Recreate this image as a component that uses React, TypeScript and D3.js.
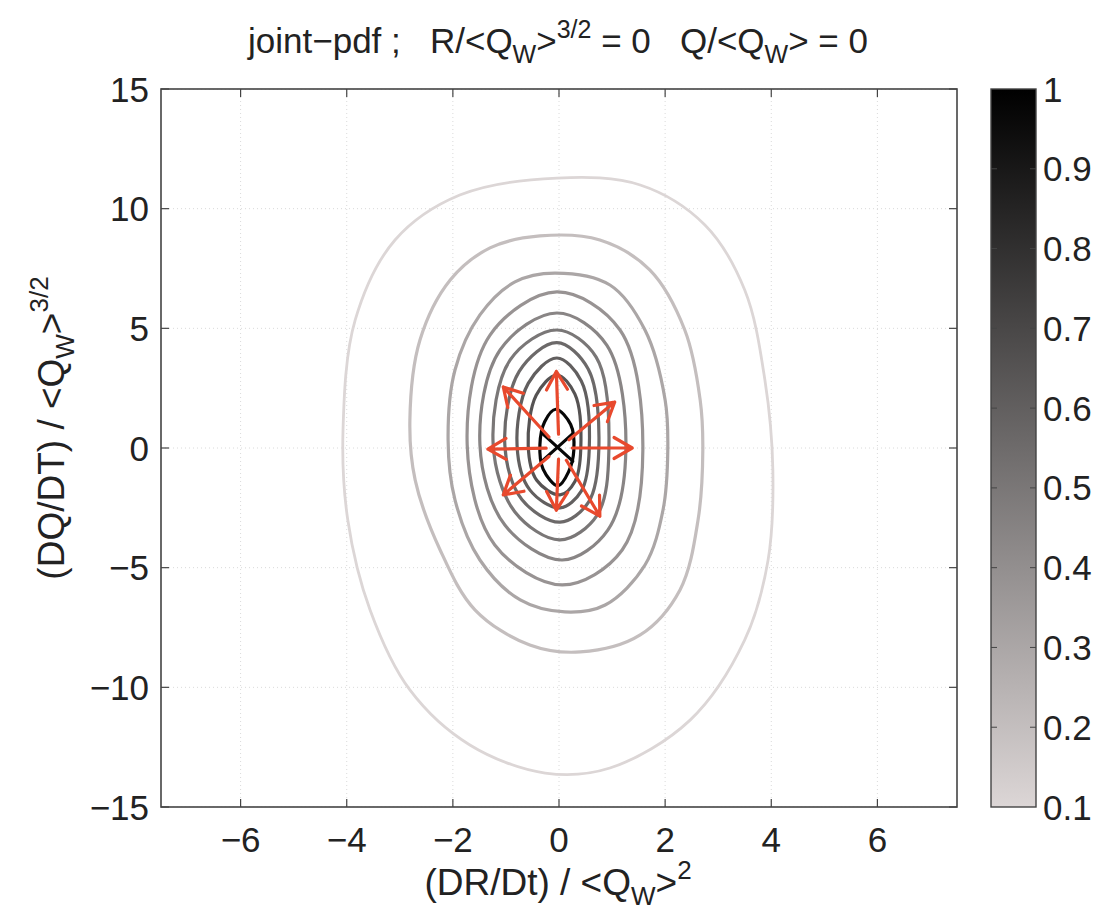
import React from "react";
import * as d3 from "d3";

// ---------- data ----------
const xTicks = [-6, -4, -2, 0, 2, 4, 6];
const yTicks = [-15, -10, -5, 0, 5, 10, 15];
const cbTicks = [0.1, 0.2, 0.3, 0.4, 0.5, 0.6, 0.7, 0.8, 0.9, 1];
const xDomain = [-7.5, 7.5];
const yDomain = [-15, 15];
const cbDomain = [0.1, 1];

// contour levels (outer to inner)
const contourLevels = [0.1, 0.2, 0.3, 0.38, 0.44, 0.5, 0.56, 0.6, 0.65];

// contour rings in data units [DR/Dt, DQ/Dt]
const ring1: [number, number][] = [
  [-0.04, 11.28], [1.53, 10.99], [2.75, 9.32], [3.5, 6.6], [3.88, 2.84], [4.03, -0.92],
  [3.94, -4.68], [3.5, -8.02], [2.47, -11.37], [0.96, -13.37], [-0.26, -13.58],
  [-1.68, -12.41], [-2.81, -10.11], [-3.56, -6.77], [-3.98, -3.01], [-4.07, 0.75],
  [-3.84, 5.35], [-3.09, 8.69], [-1.87, 10.57],
];
const ring2: [number, number][] = [
  [-0.36, 8.86], [0.77, 8.69], [1.71, 7.44], [2.37, 4.93], [2.66, 2.01], [2.71, -0.08],
  [2.62, -3.01], [2.28, -5.93], [1.53, -7.81], [0.4, -8.52], [-0.55, -8.23],
  [-1.58, -6.77], [-2.24, -4.26], [-2.71, -1.34], [-2.81, 1.17], [-2.62, 4.51],
  [-2.05, 7.02], [-1.3, 8.36],
];
const ring3: [number, number][] = [
  [-0.08, 7.31], [0.96, 6.81], [1.62, 4.93], [2.0, 2.01], [2.05, -0.08], [1.96, -2.59],
  [1.62, -4.89], [0.87, -6.56], [0.11, -6.85], [-0.73, -6.35], [-1.49, -4.68],
  [-1.96, -2.17], [-2.09, 0.33], [-1.96, 3.26], [-1.49, 5.56], [-0.83, 6.94],
];
const ring4: [number, number][] = [
  [-0.04, 6.52], [1.15, 4.93], [1.58, -0.08], [1.19, -4.26], [0.06, -5.72],
  [-1.21, -4.05], [-1.73, 0.13], [-1.3, 4.72],
];
const ring5: [number, number][] = [
  [-0.04, 5.64], [0.9, 4.3], [1.26, -0.08], [0.92, -3.43], [0.06, -4.68],
  [-1.02, -3.22], [-1.49, 0.13], [-1.11, 4.1],
];
const ring6: [number, number][] = [
  [-0.04, 4.93], [0.7, 3.8], [0.94, -0.08], [0.72, -2.8], [0.02, -3.84],
  [-0.83, -2.67], [-1.24, 0.13], [-0.92, 3.68],
];
const ring7: [number, number][] = [
  [-0.04, 4.4], [0.55, 3.3], [0.75, -0.08], [0.56, -2.25], [0.02, -3.1],
  [-0.7, -2.15], [-1.02, 0.1], [-0.75, 3.2],
];
const ring8: [number, number][] = [
  [-0.04, 3.76], [0.42, 2.8], [0.57, -0.05], [0.42, -1.8], [0.02, -2.5],
  [-0.55, -1.75], [-0.79, 0.1], [-0.58, 2.7],
];
const ring9: [number, number][] = [
  [-0.04, 3.05], [0.3, 2.25], [0.41, -0.05], [0.3, -1.4], [0.02, -1.96],
  [-0.42, -1.35], [-0.58, 0.1], [-0.43, 2.2],
];
const rings = [ring1, ring2, ring3, ring4, ring5, ring6, ring7, ring8, ring9];

// innermost (highest) level: lens with crossing
const peakLevel = 0.97;
const centerLens: [number, number][] = [
  [-0.06, 1.62], [0.22, 0.98], [0.28, -0.08], [0.18, -1.0], [-0.02, -1.58],
  [-0.3, -0.88], [-0.36, 0.13], [-0.27, 1.1],
];
const centerCross: [number, number][][] = [
  [[-0.32, 0.62], [0.26, -0.55]],
  [[-0.32, -0.55], [0.26, 0.6]],
];

// arrow tips (from origin)
const arrowTips: [number, number][] = [
  [-0.05, 3.2], [1.05, 1.92], [1.38, 0], [0.77, -2.85],
  [-0.05, -2.6], [-1.05, -1.96], [-1.34, -0.05], [-1.05, 2.55],
];

// ---------- component ----------
export default function App() {
  const W = 1098, H = 914;
  const left = 161, right = 957, top = 89, bottom = 807;
  const x = d3.scaleLinear().domain(xDomain).range([left, right]);
  const y = d3.scaleLinear().domain(yDomain).range([bottom, top]);
  const cbX0 = 991, cbX1 = 1036;
  const cb = d3.scaleLinear().domain(cbDomain).range([bottom, top]);
  const grey = d3.scaleLinear<string>().domain(cbDomain).range(["#dcd6d6", "#000000"]);

  const ringLine = d3.line<[number, number]>()
    .x(d => x(d[0])).y(d => y(d[1]))
    .curve(d3.curveCatmullRomClosed.alpha(0.5));
  const segLine = d3.line<[number, number]>().x(d => x(d[0])).y(d => y(d[1]));

  const font = "'Liberation Sans', Arial, Helvetica, sans-serif";
  const fs = 35;
  const subFs = 25;
  const labFs = 37;
  const labSubFs = 26;
  const tickLen = 8;

  const arrowColor = "#e8492d";
  const arrows = arrowTips.map((t, i) => {
    const x0 = x(0), y0 = y(0);
    const tx = x(t[0]), ty = y(t[1]);
    const dx = tx - x0, dy = ty - y0;
    const len = Math.hypot(dx, dy);
    const ux = dx / len, uy = dy / len;
    const sx = x0 + ux * len * 0.18, sy = y0 + uy * len * 0.18;
    const hl = 21, ha = (30 * Math.PI) / 180;
    const ang = Math.atan2(uy, ux);
    const h1x = tx - hl * Math.cos(ang - ha), h1y = ty - hl * Math.sin(ang - ha);
    const h2x = tx - hl * Math.cos(ang + ha), h2y = ty - hl * Math.sin(ang + ha);
    return (
      <path key={i}
        d={`M${sx},${sy}L${tx},${ty}M${h1x},${h1y}L${tx},${ty}L${h2x},${h2y}`}
        fill="none" stroke={arrowColor} strokeWidth={3.2} strokeLinecap="round" strokeLinejoin="round" />
    );
  });

  const fmt = (t: number) => (t < 0 ? "−" + Math.abs(t) : String(t));

  return (
    <svg width={W} height={H} style={{ position: "absolute", left: 0, top: 0, background: "#fff" }}
      fontFamily={font}>
      <defs>
        <linearGradient id="cbgrad" x1="0" y1="1" x2="0" y2="0">
          <stop offset="0%" stopColor={grey(0.1)} />
          <stop offset="100%" stopColor={grey(1)} />
        </linearGradient>
        <clipPath id="plotclip">
          <rect x={left} y={top} width={right - left} height={bottom - top} />
        </clipPath>
      </defs>

      {/* title */}
      <text x={558} y={53} textAnchor="middle" fontSize={fs} fill="#222" xmlSpace="preserve" style={{ whiteSpace: "pre" }}>
        <tspan>{"joint−pdf ;   R/<Q"}</tspan>
        <tspan fontSize={subFs} dy={10}>W</tspan>
        <tspan dy={-10}>{">"}</tspan>
        <tspan fontSize={subFs} dy={-15}>3/2</tspan>
        <tspan dy={15}>{" = 0   Q/<Q"}</tspan>
        <tspan fontSize={subFs} dy={10}>W</tspan>
        <tspan dy={-10}>{"> = 0"}</tspan>
      </text>

      {/* grid */}
      <g clipPath="url(#plotclip)">
        {xTicks.map(t => (
          <line key={"gx" + t} x1={x(t)} x2={x(t)} y1={top} y2={bottom}
            stroke="#dadada" strokeWidth={1} strokeDasharray="1,3" />
        ))}
        {yTicks.map(t => (
          <line key={"gy" + t} y1={y(t)} y2={y(t)} x1={left} x2={right}
            stroke="#dadada" strokeWidth={1} strokeDasharray="1,3" />
        ))}
      </g>

      {/* contours */}
      <g clipPath="url(#plotclip)" fill="none">
        {rings.map((r, i) => (
          <path key={"r" + i} d={ringLine(r) || ""} stroke={grey(contourLevels[i])}
            strokeWidth={i === 0 ? 2.8 : 3.2} strokeLinejoin="round" />
        ))}
        <path d={ringLine(centerLens) || ""} stroke={grey(peakLevel)} strokeWidth={3.2} />
        {centerCross.map((s, i) => (
          <path key={"c" + i} d={segLine(s) || ""} stroke={grey(peakLevel)} strokeWidth={3.2} strokeLinecap="round" />
        ))}
      </g>

      {/* arrows */}
      <g>{arrows}</g>

      {/* axes box */}
      <rect x={left} y={top} width={right - left} height={bottom - top} fill="none" stroke="#444" strokeWidth={1.6} />
      {xTicks.map(t => (
        <g key={"xt" + t}>
          <line x1={x(t)} x2={x(t)} y1={bottom} y2={bottom - tickLen} stroke="#444" strokeWidth={1.2} />
          <line x1={x(t)} x2={x(t)} y1={top} y2={top + tickLen} stroke="#444" strokeWidth={1.2} />
          <text x={x(t)} y={852} textAnchor="middle" fontSize={fs} fill="#222">{fmt(t)}</text>
        </g>
      ))}
      {yTicks.map(t => (
        <g key={"yt" + t}>
          <line x1={left} x2={left + tickLen} y1={y(t)} y2={y(t)} stroke="#444" strokeWidth={1.2} />
          <line x1={right} x2={right - tickLen} y1={y(t)} y2={y(t)} stroke="#444" strokeWidth={1.2} />
          <text x={149} y={y(t) + 12.5} textAnchor="end" fontSize={fs} fill="#222">{fmt(t)}</text>
        </g>
      ))}

      {/* x label */}
      <text x={558} y={895} textAnchor="middle" fontSize={labFs} fill="#222" xmlSpace="preserve" style={{ whiteSpace: "pre" }}>
        <tspan>{"(DR/Dt) / <Q"}</tspan>
        <tspan fontSize={labSubFs} dy={10}>W</tspan>
        <tspan dy={-10}>{">"}</tspan>
        <tspan fontSize={labSubFs} dy={-16}>2</tspan>
      </text>

      {/* y label */}
      <text transform={`translate(64,${428}) rotate(-90)`} textAnchor="middle" fontSize={labFs} fill="#222"
        xmlSpace="preserve" style={{ whiteSpace: "pre" }}>
        <tspan>{"(DQ/DT) / <Q"}</tspan>
        <tspan fontSize={labSubFs} dy={10}>W</tspan>
        <tspan dy={-10}>{">"}</tspan>
        <tspan fontSize={labSubFs} dy={-16}>3/2</tspan>
      </text>

      {/* colorbar */}
      <rect x={cbX0} y={top} width={cbX1 - cbX0} height={bottom - top} fill="url(#cbgrad)" stroke="#444" strokeWidth={1.4} />
      {cbTicks.map(t => (
        <g key={"cb" + t}>
          {t > 0.1 && t < 1 && (
            <>
              <line x1={cbX0} x2={cbX0 + 6} y1={cb(t)} y2={cb(t)} stroke="#444" strokeWidth={1} />
              <line x1={cbX1} x2={cbX1 - 6} y1={cb(t)} y2={cb(t)} stroke="#444" strokeWidth={1} />
            </>
          )}
          <text x={1043} y={cb(t) + 12.5} fontSize={fs} fill="#222">{String(t)}</text>
        </g>
      ))}
    </svg>
  );
}
